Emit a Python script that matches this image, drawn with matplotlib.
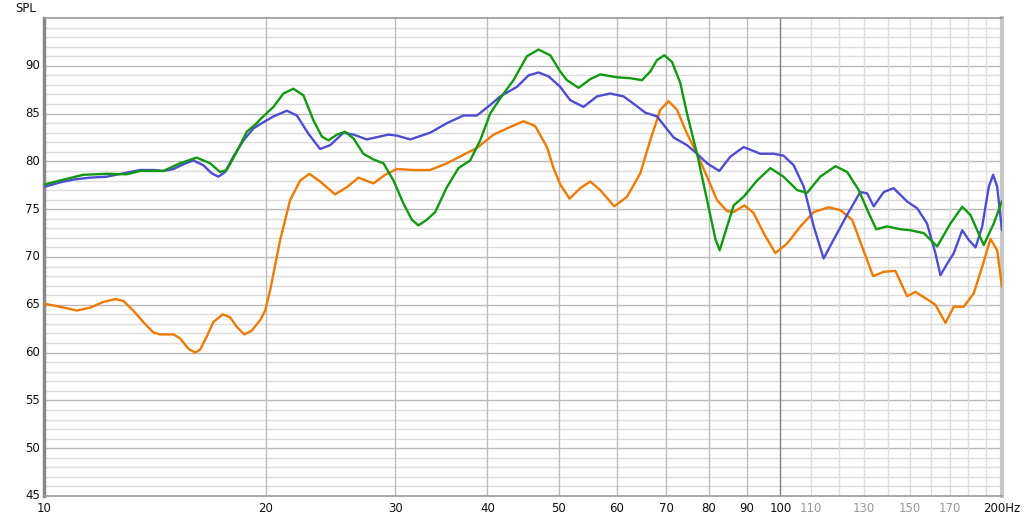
import matplotlib
matplotlib.use("Agg")
import matplotlib.pyplot as plt
from matplotlib.ticker import FixedLocator, NullFormatter

# ---- data (frequency in Hz, SPL in dB) ----
blue_f = [10.03, 10.51, 10.96, 11.55, 12.17, 12.82, 13.50, 14.08, 14.52, 14.99, 15.46, 15.95,
          16.46, 16.90, 17.25, 17.62, 18.08, 18.66, 19.25, 19.66, 20.49, 21.37, 22.05, 22.86,
          23.71, 24.47, 25.51, 26.32, 27.44, 29.36, 30.14, 31.43, 33.45, 35.25, 37.13, 38.72,
          40.36, 41.65, 43.88, 45.50, 46.94, 48.44, 50.24, 51.84, 54.04, 56.36, 58.75, 61.25,
          63.53, 65.55, 68.00, 69.79, 71.63, 74.69, 77.07, 79.52, 82.63, 85.53, 89.16, 93.94,
          97.94, 101.0, 104.25, 107.6, 111.0, 114.5, 118.1, 123.2, 128.4, 131.2, 133.9, 138.2,
          142.5, 148.65, 153.4, 158.2, 162.4, 164.97, 168.5, 172.0, 176.6, 180.2, 184.1, 188.0,
          191.9, 194.5, 197.0, 200.0]
blue_db = [77.35, 77.8, 78.1, 78.3, 78.4, 78.75, 79.1, 79.1, 79.0, 79.2, 79.7, 80.1,
           79.6, 78.75, 78.4, 78.9, 80.5, 82.2, 83.45, 83.9, 84.7, 85.3, 84.8, 82.9,
           81.3, 81.7, 83.0, 82.8, 82.3, 82.8, 82.7, 82.3, 83.0, 84.0, 84.8, 84.8,
           85.9, 86.8, 87.8, 89.0, 89.3, 88.9, 87.8, 86.4, 85.7, 86.8, 87.1, 86.8,
           85.9, 85.1, 84.7, 83.6, 82.5, 81.7, 80.8, 79.8, 79.0, 80.5, 81.5, 80.8,
           80.8, 80.6, 79.6, 77.35, 73.2, 69.85, 71.8, 74.4, 76.8, 76.65, 75.3, 76.8,
           77.2, 75.8, 75.1, 73.5, 70.4, 68.1, 69.3, 70.4, 72.8, 71.8, 71.0, 73.2,
           77.35, 78.6, 77.35, 72.8]

green_f = [10.03, 10.51, 11.31, 12.17, 12.95, 13.50, 14.52, 15.30, 16.12, 16.81, 17.34, 17.71,
           18.27, 18.85, 19.45, 19.66, 20.49, 21.14, 21.81, 22.51, 23.22, 23.84, 24.34, 24.99,
           25.64, 26.32, 27.15, 28.02, 28.91, 29.83, 30.77, 31.59, 32.25, 33.11, 33.98, 35.25,
           36.55, 37.91, 39.12, 40.36, 41.65, 43.41, 45.27, 46.94, 48.70, 50.24, 51.31, 53.20,
           55.19, 56.94, 59.99, 62.54, 64.88, 66.58, 68.00, 69.57, 71.27, 73.14, 74.69, 77.07,
           79.52, 81.61, 82.71, 84.20, 86.42, 89.16, 92.98, 96.93, 101.0, 105.4, 108.7, 113.3,
           118.8, 123.2, 127.8, 131.8, 135.0, 139.6, 145.6, 150.2, 156.6, 163.3, 170.2, 176.6,
           181.2, 188.9, 194.9, 200.0]
green_db = [77.6, 78.0, 78.6, 78.7, 78.65, 79.0, 79.0, 79.8, 80.4, 79.8, 78.9, 79.1,
            81.0, 83.1, 84.0, 84.4, 85.7, 87.1, 87.6, 86.9, 84.3, 82.6, 82.2, 82.8,
            83.1, 82.4, 80.8, 80.2, 79.8, 78.0, 75.6, 73.9, 73.3, 73.9, 74.7, 77.3,
            79.3, 80.1, 82.2, 85.0, 86.6, 88.5, 91.0, 91.7, 91.1, 89.4, 88.5, 87.7,
            88.6, 89.1, 88.8, 88.7, 88.5, 89.4, 90.6, 91.1, 90.4, 88.2, 85.0, 80.8,
            75.95, 71.9, 70.7, 72.6, 75.4, 76.3, 78.0, 79.3, 78.4, 77.0, 76.7, 78.4,
            79.5, 78.9, 77.0, 74.6, 72.9, 73.2, 72.9, 72.8, 72.5, 71.1, 73.5, 75.25,
            74.4, 71.25, 73.5, 75.85]

orange_f = [10.03, 10.51, 11.08, 11.55, 12.04, 12.49, 12.82, 13.22, 13.64, 14.08, 14.37, 14.99,
            15.30, 15.71, 16.04, 16.29, 16.64, 16.98, 17.49, 17.89, 18.27, 18.71, 19.15, 19.66,
            19.97, 20.28, 20.93, 21.59, 22.28, 22.93, 23.71, 24.85, 25.78, 26.73, 28.02, 29.06,
            30.14, 31.75, 33.45, 35.25, 37.13, 38.72, 40.78, 42.97, 44.79, 46.46, 48.20, 49.20,
            50.24, 51.73, 53.49, 55.19, 56.94, 59.49, 61.90, 64.53, 66.58, 68.70, 70.51, 72.39,
            74.69, 77.07, 79.52, 82.04, 84.65, 86.42, 89.36, 91.98, 94.91, 98.45, 102.1, 106.5,
            111.0, 116.3, 120.65, 125.15, 129.1, 133.65, 138.2, 143.3, 148.65, 152.55, 157.4,
            162.4, 167.6, 172.0, 177.4, 183.1, 188.9, 192.9, 197.0, 200.0]
orange_db = [65.1, 64.8, 64.4, 64.7, 65.3, 65.6, 65.4, 64.4, 63.2, 62.1, 61.9, 61.9,
             61.5, 60.4, 60.0, 60.3, 61.7, 63.2, 64.0, 63.7, 62.7, 61.9, 62.3, 63.4,
             64.4, 66.5, 71.8, 75.95, 78.0, 78.7, 77.9, 76.55, 77.3, 78.3, 77.7, 78.6,
             79.2, 79.1, 79.1, 79.8, 80.7, 81.4, 82.8, 83.6, 84.2, 83.7, 81.5, 79.3,
             77.6, 76.1, 77.2, 77.9, 77.0, 75.3, 76.3, 78.75, 82.2, 85.4, 86.3, 85.4,
             82.9, 80.8, 78.4, 75.95, 74.8, 74.7, 75.4, 74.6, 72.5, 70.4, 71.4, 73.2,
             74.7, 75.2, 74.9, 73.9, 71.1, 68.0, 68.45, 68.55, 65.9, 66.35, 65.7,
             65.0, 63.1, 64.8, 64.8, 66.2, 69.5, 71.9, 70.7, 66.9]

x_major = [10, 20, 30, 40, 50, 60, 70, 80, 90, 100]
x_minor = [110, 120, 130, 140, 150, 160, 170, 180, 190]
x_labels_dark = {10: "10", 20: "20", 30: "30", 40: "40", 50: "50", 60: "60",
                 70: "70", 80: "80", 90: "90", 100: "100", 200: "200Hz"}
x_labels_light = {110: "110", 130: "130", 150: "150", 170: "170"}
y_labels = [45, 50, 55, 60, 65, 70, 75, 80, 85, 90]

# ---- figure ----
fig = plt.figure(figsize=(10.24, 5.21), dpi=100)
ax = fig.add_axes([44 / 1024, 1 - 496 / 521, (1002 - 44) / 1024, (496 - 18) / 521])
ax.set_xscale("log")
ax.set_xlim(10, 200)
ax.set_ylim(45, 95)

# grid
for v in range(46, 95):
    col = "#b9b9b9" if v % 5 == 0 else "#dddddd"
    ax.axhline(v, color=col, lw=1, zorder=0)
for f in x_major[1:-1]:
    ax.axvline(f, color="#bcbcbc", lw=1, zorder=0)
ax.axvline(100, color="#808080", lw=1, zorder=0)
for f in x_minor:
    ax.axvline(f, color="#dddddd", lw=1, zorder=0)

kw = dict(lw=1.7, solid_joinstyle="round", solid_capstyle="round")
ax.plot(orange_f, orange_db, color="#ee7a00", zorder=3, **kw)
ax.plot(blue_f, blue_db, color="#4d4dd4", zorder=4, **kw)
ax.plot(green_f, green_db, color="#119911", zorder=5, **kw)

ax.xaxis.set_major_locator(FixedLocator([]))
ax.xaxis.set_minor_locator(FixedLocator([]))
ax.xaxis.set_minor_formatter(NullFormatter())
ax.set_yticks([])
ax.tick_params(length=0)

trans_x = ax.get_xaxis_transform()
for f, s in x_labels_dark.items():
    ax.text(f, -0.012, s, transform=trans_x, ha="center", va="top", fontsize=8.5,
            color="#111111", clip_on=False)
for f, s in x_labels_light.items():
    ax.text(f, -0.012, s, transform=trans_x, ha="center", va="top", fontsize=8.5,
            color="#999999", clip_on=False)
trans_y = ax.get_yaxis_transform()
for v in y_labels:
    ax.text(-0.004, v, str(v), transform=trans_y, ha="right", va="center", fontsize=8.5,
            color="#111111", clip_on=False)
fig.text(15 / 1024, 1 - 8 / 521, "SPL", ha="left", va="center", fontsize=8.5, color="#111111")

for side in ["top", "bottom"]:
    ax.spines[side].set_color("#999999")
    ax.spines[side].set_linewidth(1.2)
ax.spines["left"].set_color("#888888")
ax.spines["left"].set_linewidth(2.5)
ax.spines["right"].set_color("#c8c8c8")
ax.spines["right"].set_linewidth(3)

fig.savefig("out.png", dpi=100, facecolor="white")
